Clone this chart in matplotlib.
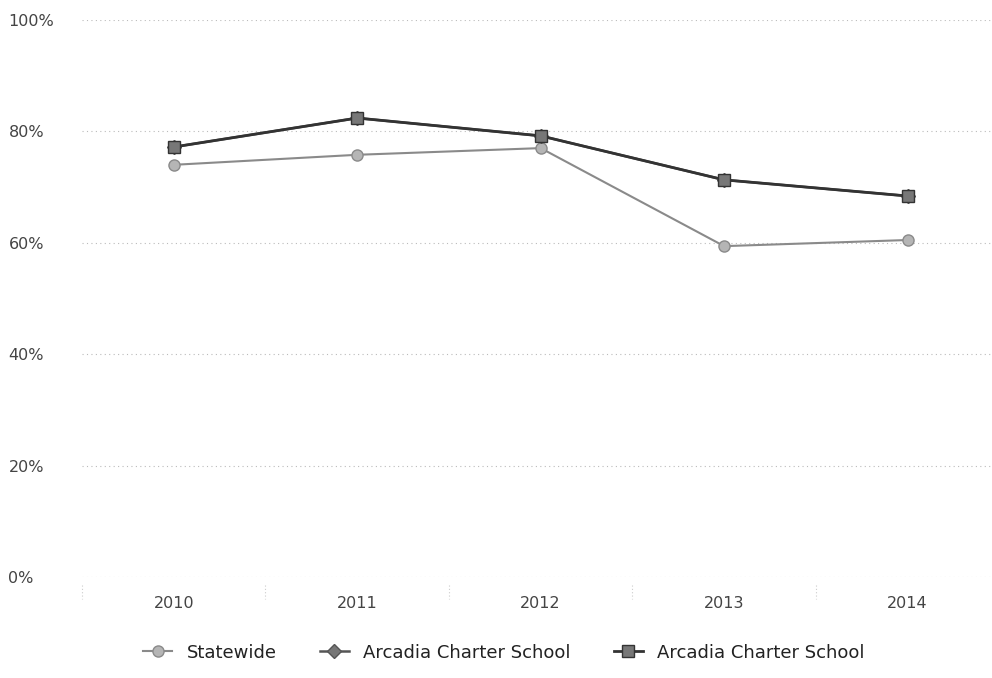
import matplotlib
matplotlib.use("Agg")
import matplotlib.pyplot as plt
from matplotlib.ticker import FuncFormatter

years = ["2010", "2011", "2012", "2013", "2014"]
statewide = [74.0, 75.8, 77.0, 59.4, 60.5]
arcadia_a = [77.2, 82.4, 79.2, 71.3, 68.4]
arcadia_b = [77.2, 82.4, 79.2, 71.3, 68.4]

fig = plt.figure(figsize=(9.92, 6.78), dpi=100)
ax = fig.add_axes([82 / 992, 101 / 678, 1 - 82 / 992, 557 / 678])

x = range(len(years))
ax.plot(x, statewide, color="#8a8a8a", lw=1.5, marker="o", ms=8,
        mfc="#b5b5b5", mec="#8a8a8a", label="Statewide", zorder=3)
ax.plot(x, arcadia_a, color="#555555", lw=1.8, marker="D", ms=7,
        mfc="#777777", mec="#555555", label="Arcadia Charter School", zorder=3)
ax.plot(x, arcadia_b, color="#333333", lw=2.0, marker="s", ms=8,
        mfc="#777777", mec="#333333", label="Arcadia Charter School", zorder=4)

ax.set_xlim(-0.5, 4.46)
ax.set_ylim(0, 100)
ax.set_xticks(list(x))
ax.set_xticklabels(years)
ax.set_yticks(range(0, 101, 20))
ax.yaxis.set_major_formatter(FuncFormatter(lambda v, p: f"{int(v)}%"))
ax.grid(axis="y", color="#bbbbbb", ls=(0, (1, 3)), lw=0.8)
ax.set_axisbelow(True)

for side in ["top", "right", "left", "bottom"]:
    ax.spines[side].set_visible(False)

# faint category boundary ticks
for b in [-0.5, 0.5, 1.5, 2.5, 3.5]:
    ax.plot([b, b], [-1.5, -4], color="#cccccc", lw=0.8, ls=(0, (1, 2)),
            clip_on=False)

ax.tick_params(axis="both", length=0, labelsize=11.5, colors="#444444")
ax.tick_params(axis="x", pad=14)
ax.tick_params(axis="y", pad=53)
for lab in ax.get_yticklabels():
    lab.set_horizontalalignment("left")

fig.legend(loc="lower center", bbox_to_anchor=(0.508, 0.0), ncol=3,
           frameon=False, fontsize=13, handlelength=1.6, columnspacing=2.4,
           labelcolor="#222222")

fig.savefig("out.png", dpi=100)
